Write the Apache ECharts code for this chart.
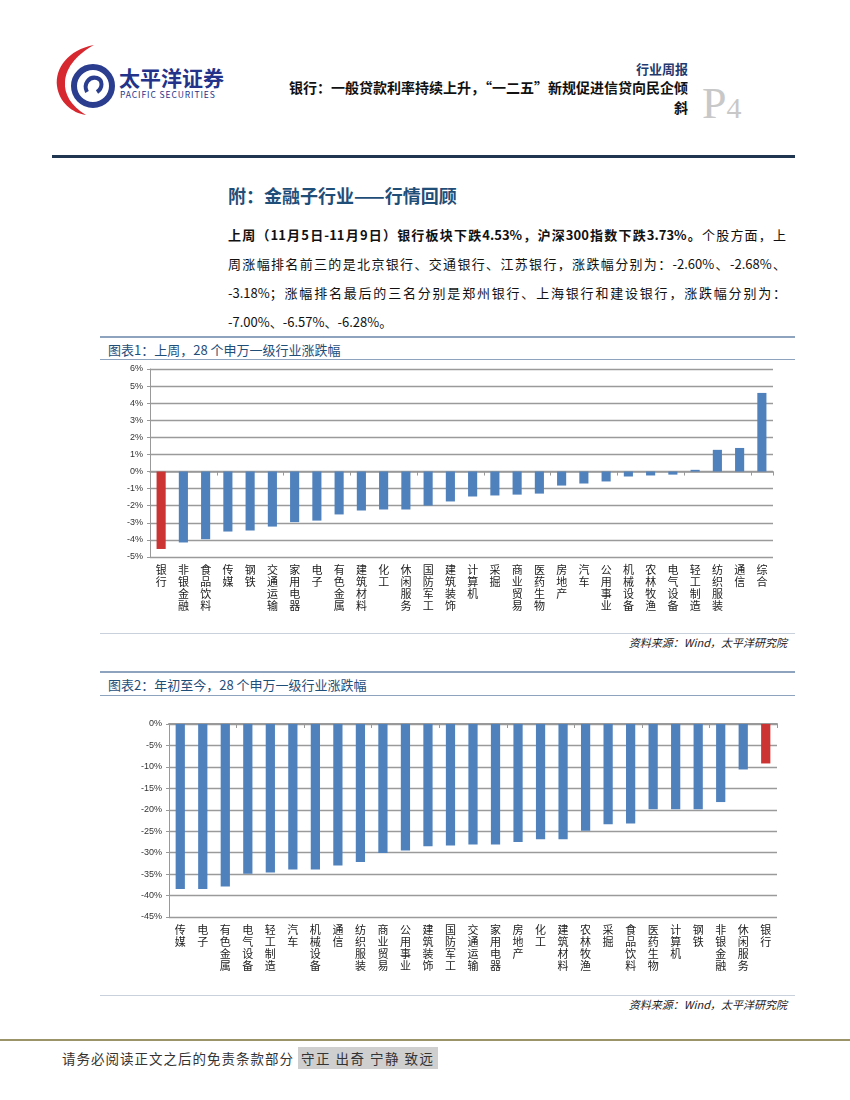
<!DOCTYPE html>
<html><head><meta charset="utf-8">
<script src="https://cdn.jsdelivr.net/npm/echarts@6/dist/echarts.min.js"></script>
<style>
body{margin:0;background:#fff;font-family:"Noto Sans CJK SC","Noto Sans",sans-serif;}
#page{position:relative;width:850px;height:1100px;overflow:hidden;}
.abs{position:absolute;}
.line{position:absolute;height:0;}
.para div{white-space:nowrap;}
</style></head><body>
<div id="page">
<svg class="abs" style="left:52px;top:42px" width="70" height="75" viewBox="0 0 70 75">
 <path d="M42 3 C16 8 3 26 5 44 C7 60 20 71 34 73 C19 64 12 52 13 40 C14 24 27 11 42 3 Z" fill="#d7282f"/>
 <circle cx="41" cy="44" r="19" fill="none" stroke="#2a3d8f" stroke-width="6"/>
 <path d="M35 50 C31 42 37 34 45 36 C51 38 51 46 45 50" fill="none" stroke="#2a3d8f" stroke-width="4"/>
</svg>
<div class="abs" style="left:119px;top:62px;font-size:21px;font-weight:bold;color:#23338a">太平洋证券</div>
<div class="abs" style="left:120px;top:88px;font-size:8.5px;color:#23338a;letter-spacing:0.9px">PACIFIC SECURITIES</div>
<div class="abs" style="right:162px;top:59px;font-size:13px;font-weight:bold;color:#1f3a6e">行业周报</div>
<div class="abs" style="right:162px;top:77px;font-size:14px;font-weight:bold;color:#111;text-align:right;line-height:20px">银行：一般贷款利率持续上升，“一二五”新规促进信贷向民企倾<br>斜</div>
<div class="abs" style="left:702px;top:78px;font-size:44px;color:#c8c8c8;font-family:'Liberation Serif',serif">P<span style="font-size:30px">4</span></div>
<div class="line" style="left:52px;top:155px;width:743px;border-top:3px solid #1f3550"></div>

<div class="abs" style="left:228px;top:182px;font-size:18px;font-weight:bold;color:#1f4e79">附：金融子行业——行情回顾</div>
<div class="abs para" style="left:228px;top:220px;width:558px;font-size:13px;line-height:29px;color:#111">
 <div style="text-align:justify;text-align-last:justify"><b>上周（11月5日-11月9日）银行板块下跌4.53%，沪深300指数下跌3.73%。</b>个股方面，上</div>
 <div style="text-align:justify;text-align-last:justify">周涨幅排名前三的是北京银行、交通银行、江苏银行，涨跌幅分别为：-2.60%、-2.68%、</div>
 <div style="text-align:justify;text-align-last:justify">-3.18%；涨幅排名最后的三名分别是郑州银行、上海银行和建设银行，涨跌幅分别为：</div>
 <div>-7.00%、-6.57%、-6.28%。</div>
</div>

<div class="line" style="left:100px;top:336px;width:695px;border-top:2px solid #8ea3bd"></div>
<div class="abs" style="left:108px;top:340px;font-size:13px;color:#1f4e79">图表1：上周，28 个申万一级行业涨跌幅</div>
<div class="line" style="left:100px;top:359px;width:695px;border-top:1.5px solid #8ea3bd"></div>
<div id="c1" class="abs" style="left:100px;top:362px;width:695px;height:268px"></div>
<div class="line" style="left:100px;top:633px;width:695px;border-top:1.5px solid #c9d2dc"></div>
<div class="abs" style="right:63px;top:634px;font-size:11px;font-style:italic;color:#222">资料来源：Wind，太平洋研究院</div>

<div class="line" style="left:100px;top:671px;width:695px;border-top:2px solid #8ea3bd"></div>
<div class="abs" style="left:108px;top:675px;font-size:13px;color:#1f4e79">图表2：年初至今，28 个申万一级行业涨跌幅</div>
<div class="line" style="left:100px;top:695px;width:695px;border-top:1.5px solid #8ea3bd"></div>
<div id="c2" class="abs" style="left:100px;top:700px;width:695px;height:290px"></div>
<div class="line" style="left:100px;top:995px;width:695px;border-top:1.5px solid #c9d2dc"></div>
<div class="abs" style="right:63px;top:996px;font-size:11px;font-style:italic;color:#222">资料来源：Wind，太平洋研究院</div>

<div class="line" style="left:0px;top:1039px;width:850px;border-top:2.5px solid #9a9468"></div>
<div class="abs" style="left:62px;top:1048px;font-size:13.5px;color:#333;letter-spacing:1px">请务必阅读正文之后的免责条款部分 <span style="background:#cfcfcf;padding:1px 3px;letter-spacing:1.5px">守正 出奇 宁静 致远</span></div>
</div>
<script>
const weekCats = ['银行','非银金融','食品饮料','传媒','钢铁','交通运输','家用电器','电子','有色金属','建筑材料','化工','休闲服务','国防军工','建筑装饰','计算机','采掘','商业贸易','医药生物','房地产','汽车','公用事业','机械设备','农林牧渔','电气设备','轻工制造','纺织服装','通信','综合'];
const weekVals = [-4.53,-4.15,-3.96,-3.51,-3.45,-3.22,-2.96,-2.87,-2.51,-2.28,-2.22,-2.22,-1.99,-1.75,-1.46,-1.40,-1.35,-1.29,-0.82,-0.70,-0.58,-0.29,-0.23,-0.18,0.10,1.27,1.38,4.60];
const ytdCats = ['传媒','电子','有色金属','电气设备','轻工制造','汽车','机械设备','通信','纺织服装','商业贸易','公用事业','建筑装饰','国防军工','交通运输','家用电器','房地产','化工','建筑材料','农林牧渔','采掘','食品饮料','医药生物','计算机','钢铁','非银金融','休闲服务','银行'];
const ytdVals = [-38.5,-38.5,-37.9,-34.9,-34.6,-33.9,-33.9,-33.0,-32.2,-30.1,-29.5,-28.5,-28.3,-28.1,-28.1,-27.5,-26.9,-26.9,-24.9,-23.4,-23.2,-19.9,-19.9,-19.9,-18.2,-10.6,-9.2];
const highlight = '银行';
const BLUE = '#4f81bd', RED = '#cc3333';

function vert(s){return s.split('').join('\n');}
function makeOpt(cats, vals, min, max, interval, grid, labelFmt){
  return {
    animation:false,
    grid: grid,
    xAxis:[
      {type:'category',data:cats,position:'bottom',axisLine:{show:false,onZero:false},axisTick:{show:false},
       axisLabel:{interval:0,formatter:vert,fontSize:11,lineHeight:12,color:'#222',margin:7,fontFamily:'Noto Sans CJK SC'}},
      {type:'category',data:cats,position:'bottom',axisLine:{show:true,onZero:true,lineStyle:{color:'#999',width:1.5}},
       axisTick:{show:true,length:4,lineStyle:{color:'#999'}},axisLabel:{show:false}}
    ],
    yAxis:{type:'value',min:min,max:max,interval:interval,
      axisLine:{show:true,lineStyle:{color:'#999'}},axisTick:{show:true,length:3,lineStyle:{color:'#999'}},
      splitLine:{lineStyle:{color:'#9a9a9a',width:1.4}},
      axisLabel:{formatter:labelFmt,fontSize:9,color:'#333',margin:7}},
    series:[{type:'bar',xAxisIndex:0,data:vals.map((v,i)=>({value:v,itemStyle:{color:cats[i]===highlight?RED:BLUE}})),barWidth:'41%'}]
  };
}
const c1 = echarts.init(document.getElementById('c1'));
c1.setOption(makeOpt(weekCats, weekVals, -5, 6, 1, {left:50,right:22,top:7,bottom:73}, v=>v+'%'));
const c2 = echarts.init(document.getElementById('c2'));
const o2 = makeOpt(ytdCats, ytdVals, -45, 0, 5, {left:69,right:18,top:24,bottom:73}, v=>v+'%');
o2.xAxis[1].position='top';
o2.xAxis[1].axisLine.onZero=false;
o2.xAxis[1].axisTick.inside=true;
o2.xAxis[1].axisLine.lineStyle.width=2;
c2.setOption(o2);
</script>
</body></html>
